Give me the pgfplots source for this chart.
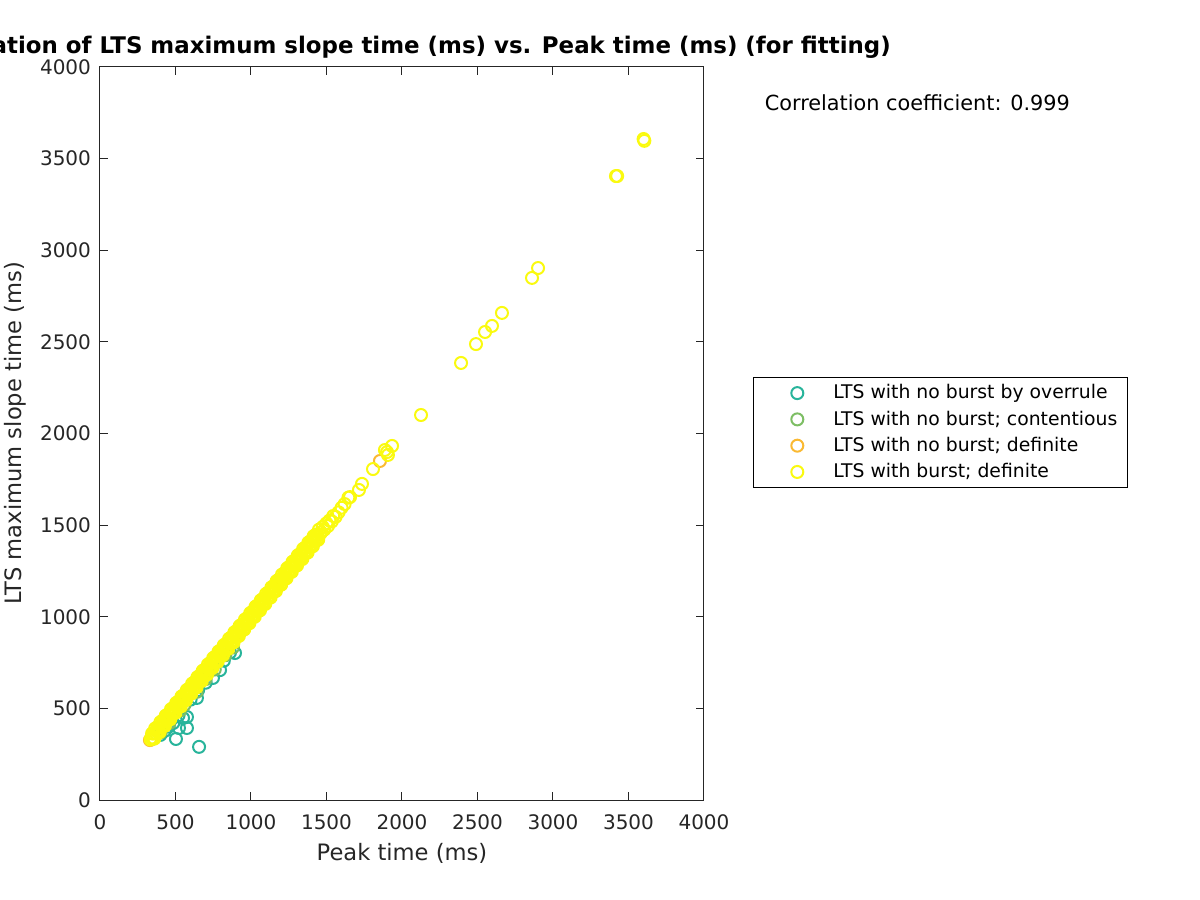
\documentclass[border=0pt]{standalone}
\usepackage{fontspec}
\setmainfont{DejaVu Sans}
\usepackage{pgfplots}
\pgfplotsset{compat=1.18}
\definecolor{cteal}{RGB}{40,180,155}
\definecolor{cgreen}{RGB}{125,190,100}
\definecolor{corange}{RGB}{250,185,50}
\definecolor{cyellow}{RGB}{250,250,15}
\definecolor{axgray}{gray}{0.15}
\pgfplotsset{
  sc/.style={only marks, mark=o, mark size=3pt, mark options={#1, line width=1pt},
    legend image code/.code={\path[draw=none,fill=none] (0pt,-1pt) rectangle (35pt,1pt); \draw[only marks, mark indices={2}] plot coordinates {(0pt,0pt)(20pt,0pt)(35pt,0pt)};}},
}
\begin{document}
\begin{tikzpicture}
\useasboundingbox (0,0) rectangle (600pt,450pt);
\begin{axis}[
  at={(50pt,50pt)}, anchor=origin,
  scale only axis, width=302pt, height=366.5pt,
  xmin=0, xmax=4000, ymin=0, ymax=4000,
  xtick={0,500,...,4000}, ytick={0,500,...,4000},
  tick align=inside, major tick length=4pt,
  axis line style={axgray, line width=0.5pt},
  every tick/.style={axgray, line width=0.5pt},
  /pgf/number format/assume math mode=true,
  /pgf/number format/1000 sep={},
  tick label style={font=\fontsize{10}{12}\selectfont, text=axgray},
  xticklabel style={yshift=-4pt},
  yticklabel style={xshift=-1pt},
  label style={font=\fontsize{11.3}{13}\selectfont, text=axgray},
  xlabel={Peak time (ms)},
  xlabel style={yshift=0.5pt},
  ylabel={LTS maximum slope time (ms)},
  title={Correlation of LTS maximum slope time (ms) vs. Peak time (ms) (for fitting)},
  title style={font=\bfseries\fontsize{11.45}{13}\selectfont, at={(axis description cs:0.5,1)}, anchor=south, yshift=-5.5pt},
  legend cell align=left,
  legend style={at={(axis description cs:1.081,0.577)}, anchor=north west,
    draw=black, line width=0.4pt, inner xsep=2pt, inner ysep=3pt, row sep=3.5pt,
    font=\fontsize{9.4}{11}\selectfont, nodes={inner ysep=0.5pt, inner xsep=3pt}},
  clip=false,
]
\addplot[sc=cteal] coordinates {
(503,333) (576,393) (523,393) (656,290) (550,447)
(400,355) (430,378) (455,400) (485,420) (520,462) (576,453) (642,557) (600,548) (650,600)
(700,640) (748,666) (795,709) (820,760) (861,805) (894,802)
};
\addlegendentry{LTS with no burst by overrule}
\addplot[sc=cgreen] coordinates {
(350,335) (400,368) (460,420) (530,488) (560,520) (640,590) (700,660) (760,712) (830,790) (880,832)
};
\addlegendentry{LTS with no burst; contentious}
\addplot[sc=corange] coordinates {
(331,327) (600,600) (900,905) (1200,1205) (1854,1850)
};
\addlegendentry{LTS with no burst; definite}
\addplot[sc=cyellow] coordinates {
(335,330)
(340,340) (345,363) (350,335) (355,363) (360,335) (365,390) (370,364)
(375,375) (380,398) (385,370) (390,398) (395,370) (400,425) (405,399)
(410,410) (415,433) (420,405) (425,433) (430,405) (435,460) (440,434)
(445,445) (450,468) (455,440) (460,468) (465,440) (470,495) (475,469)
(480,480) (485,503) (490,475) (495,503) (500,475) (505,530) (510,504)
(515,515) (520,538) (525,510) (530,538) (535,510) (540,565) (545,539)
(550,550) (555,573) (560,545) (565,573) (570,545) (575,600) (580,574)
(585,585) (590,608) (595,580) (600,608) (605,580) (610,635) (615,609)
(620,620) (625,643) (630,615) (635,643) (640,615) (645,670) (650,644)
(655,655) (660,678) (665,650) (670,678) (675,650) (680,705) (685,679)
(690,690) (695,713) (700,685) (705,713) (710,685) (715,740) (720,714)
(725,725) (730,748) (735,720) (740,748) (745,720) (750,775) (755,749)
(760,760) (765,783) (770,755) (775,783) (780,755) (785,810) (790,784)
(795,795) (800,818) (805,790) (810,818) (815,790) (820,845) (825,819)
(830,830) (835,853) (840,825) (845,853) (850,825) (855,880) (860,854)
(865,865) (870,888) (875,860) (880,888) (885,860) (890,915) (895,889)
(900,900) (905,923) (910,895) (915,923) (920,895) (925,950) (930,924)
(935,935) (940,958) (945,930) (950,958) (955,930) (960,985) (965,959)
(970,970) (975,993) (980,965) (985,993) (990,965) (995,1020) (1000,994)
(1005,1005) (1010,1028) (1015,1000) (1020,1028) (1025,1000) (1030,1055) (1035,1029)
(1040,1040) (1045,1063) (1050,1035) (1055,1063) (1060,1035) (1065,1090) (1070,1064)
(1075,1075) (1080,1098) (1085,1070) (1090,1098) (1095,1070) (1100,1125) (1105,1099)
(1110,1110) (1115,1133) (1120,1105) (1125,1133) (1130,1105) (1135,1160) (1140,1134)
(1145,1145) (1150,1168) (1155,1140) (1160,1168) (1165,1140) (1170,1195) (1175,1169)
(1180,1180) (1185,1203) (1190,1175) (1195,1203) (1200,1175) (1205,1230) (1210,1204)
(1215,1215) (1220,1238) (1225,1210) (1230,1238) (1235,1210) (1240,1265) (1245,1239)
(1250,1250) (1255,1273) (1260,1245) (1265,1273) (1270,1245) (1275,1300) (1280,1274)
(1285,1285) (1290,1308) (1295,1280) (1300,1308) (1305,1280) (1310,1335) (1315,1309)
(1320,1320) (1325,1343) (1330,1315) (1335,1343) (1340,1315) (1345,1370) (1350,1344)
(1355,1355) (1360,1378) (1365,1350) (1370,1378) (1375,1350) (1380,1405) (1385,1379)
(1390,1390) (1395,1413) (1400,1385) (1405,1413) (1410,1385) (1415,1440) (1420,1414)
(1425,1425) (1430,1448) (1435,1420) (1440,1448) (1445,1420) (1450,1475) (1455,1449)
(1465,1460) (1475,1490) (1485,1475) (1500,1510) (1510,1495) (1520,1525) (1535,1520) (1545,1550)
(1560,1545) (1580,1570) (1600,1595) (1620,1615) (1645,1650) (1656,1653) (1715,1692) (1735,1725)
(1808,1806) (1887,1910) (1901,1899) (1907,1883) (1934,1932) (2126,2101) (2391,2385) (2490,2488)
(2550,2554) (2596,2587) (2662,2658) (2861,2849) (2901,2903) (3417,3405) (3425,3405) (3600,3607) (3605,3597)
};
\addlegendentry{LTS with burst; definite}
\node[anchor=west, font=\fontsize{10.4}{12}\selectfont, text=black] at (axis description cs:1.089,0.951) {Correlation coefficient: 0.999};
\end{axis}
\end{tikzpicture}
\end{document}
